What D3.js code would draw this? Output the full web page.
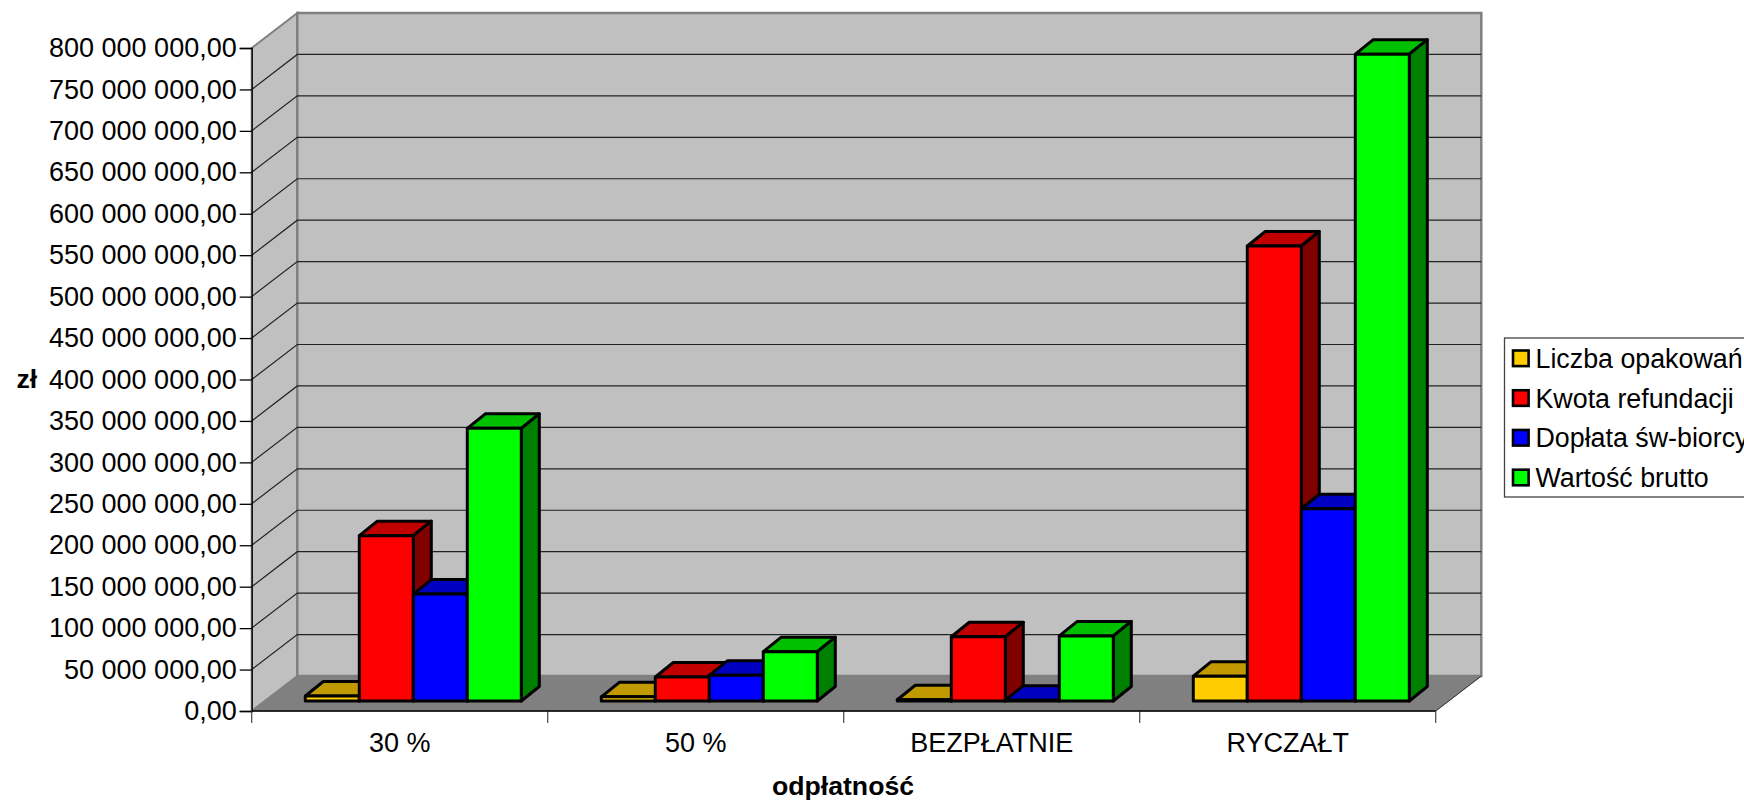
<!DOCTYPE html>
<html><head><meta charset="utf-8">
<style>html,body{margin:0;padding:0;background:#fff;overflow:hidden}svg{display:block}text{font-family:"Liberation Sans",Arial,sans-serif;font-size:26.67px;fill:#000}</style>
<script src="https://cdn.jsdelivr.net/npm/d3@7/dist/d3.min.js"></script>
</head><body><svg id="c" width="1744" height="800"></svg>
<script>
const categories = ["30 %","50 %","BEZPŁATNIE","RYCZAŁT"];
const seriesNames = ["Liczba opakowań","Kwota refundacji","Dopłata św-biorcy","Wartość brutto"];
const liczbaOpakowan = [6e6,5e6,1.5e6,30e6];
const kwotaRefundacji = [199.5e6,29e6,77.5e6,549e6];
const doplataSwBiorcy = [129e6,31e6,1e6,232e6];
const wartoscBrutto = [329e6,59.5e6,78.5e6,780.5e6];
const seriesValues = [liczbaOpakowan,kwotaRefundacji,doplataSwBiorcy,wartoscBrutto];
const frontColors = ["#FFCC00","#FF0000","#0000FF","#00FF00"];
const topColors = ["#C09A00","#C00000","#0000C0","#00C000"];
const sideColors = ["#806600","#800000","#000080","#008000"];
const yTicks = d3.range(0,800000001,50000000);

const svg = d3.select("#c");
const L=251.7,R=1435.7,T=48,B=711,DX=45.6,DY=35;
const BDX=18,BDY=14.5,SHIFTX=13.6,SHIFTY=10;
const y = d3.scaleLinear().domain([0,800e6]).range([B,T]);
const x0 = d3.scaleBand().domain(categories).range([L,R]).paddingInner(0).paddingOuter(0);
const x1 = d3.scaleBand().domain(d3.range(4)).range([40,256]);
const loc = d3.formatLocale({decimal:",",thousands:" ",grouping:[3],currency:["","zł"]});
const fmt = loc.format(",.2f");
const pts = a=>a.map(p=>p.join(",")).join(" ");

// walls
svg.append("polygon").attr("points",pts([[L,T],[L+DX,T-DY],[L+DX,B-DY],[L,B]])).attr("fill","#C0C0C0").attr("stroke","#808080").attr("stroke-width",2);
svg.append("polygon").attr("points",pts([[L+DX,T-DY],[R+DX,T-DY],[R+DX,B-DY],[L+DX,B-DY]])).attr("fill","#C0C0C0").attr("stroke","#808080").attr("stroke-width",2.5);
svg.append("polygon").attr("points",pts([[L,B],[L+DX,B-DY],[R+DX,B-DY],[R,B]])).attr("fill","#808080").attr("stroke","#808080").attr("stroke-width",1);
// gridlines
svg.append("g").selectAll("polyline").data(yTicks.slice(1,-1)).join("polyline")
  .attr("points",d=>pts([[L,y(d)],[L+DX,y(d)-DY],[R+DX,y(d)-DY]])).attr("fill","none").attr("stroke","#222").attr("stroke-width",1.2);
// floor right edge
svg.append("line").attr("x1",R).attr("y1",B).attr("x2",R+DX).attr("y2",B-DY).attr("stroke","#333").attr("stroke-width",1);

// bars
const g = svg.append("g").attr("stroke","#000").attr("stroke-width",3).attr("stroke-linejoin","round");
categories.forEach((c,ci)=>{
  seriesValues.forEach((vals,si)=>{
    const xl=x0(c)+x1(si)+SHIFTX, xr=xl+x1.bandwidth();
    const yb=y(0)-SHIFTY, yt=y(vals[ci])-SHIFTY;
    g.append("polygon").attr("points",pts([[xl,yt],[xl+BDX,yt-BDY],[xr+BDX,yt-BDY],[xr,yt]])).attr("fill",topColors[si]);
    g.append("polygon").attr("points",pts([[xr,yt],[xr+BDX,yt-BDY],[xr+BDX,yb-BDY],[xr,yb]])).attr("fill",sideColors[si]);
    g.append("rect").attr("x",xl).attr("y",yt).attr("width",xr-xl).attr("height",yb-yt).attr("fill",frontColors[si]);
  });
});

// y axis
const ay = svg.append("g").attr("transform",`translate(${L},0)`).call(d3.axisLeft(y).tickValues(yTicks).tickFormat(fmt).tickSize(12).tickPadding(3));
ay.selectAll("path,line").attr("stroke","#000").attr("stroke-width",1.3);
ay.selectAll("text").style("font-size","27px").style("font-family","'Liberation Sans'").attr("fill","#000");
// x axis
const ax = svg.append("g").attr("transform",`translate(0,${B})`).call(d3.axisBottom(x0).tickSize(0).tickPadding(22));
ax.select("path").remove();
ax.selectAll("text").style("font-size","27px").style("font-family","'Liberation Sans'").attr("fill","#000");
svg.append("g").selectAll("line").data(categories.map(c=>x0(c)).concat([R])).join("line")
  .attr("x1",d=>d).attr("x2",d=>d).attr("y1",B).attr("y2",B+12).attr("stroke","#444").attr("stroke-width",1.2);
svg.append("line").attr("x1",L).attr("x2",R).attr("y1",B).attr("y2",B).attr("stroke","#000").attr("stroke-width",1.3);

// titles
svg.append("text").attr("x",843).attr("y",795).attr("text-anchor","middle").attr("font-weight","bold").text("odpłatność");
svg.append("text").attr("x",16.5).attr("y",388).attr("font-weight","bold").text("zł");

// legend
const lg = svg.append("g");
lg.append("rect").attr("x",1504.5).attr("y",338).attr("width",300).attr("height",159).attr("fill","#fff").attr("stroke","#444").attr("stroke-width",1.3);
const ly = d3.scalePoint().domain(seriesNames).range([358.3,477.5]);
seriesNames.forEach((n,i)=>{
  lg.append("rect").attr("x",1513).attr("y",ly(n)-7.8).attr("width",15.6).attr("height",15.6).attr("fill",frontColors[i]).attr("stroke","#000").attr("stroke-width",2.6);
  lg.append("text").attr("x",1535.5).attr("y",ly(n)+9.5).style("font-size","26.8px").text(n);
});
</script></body></html>
